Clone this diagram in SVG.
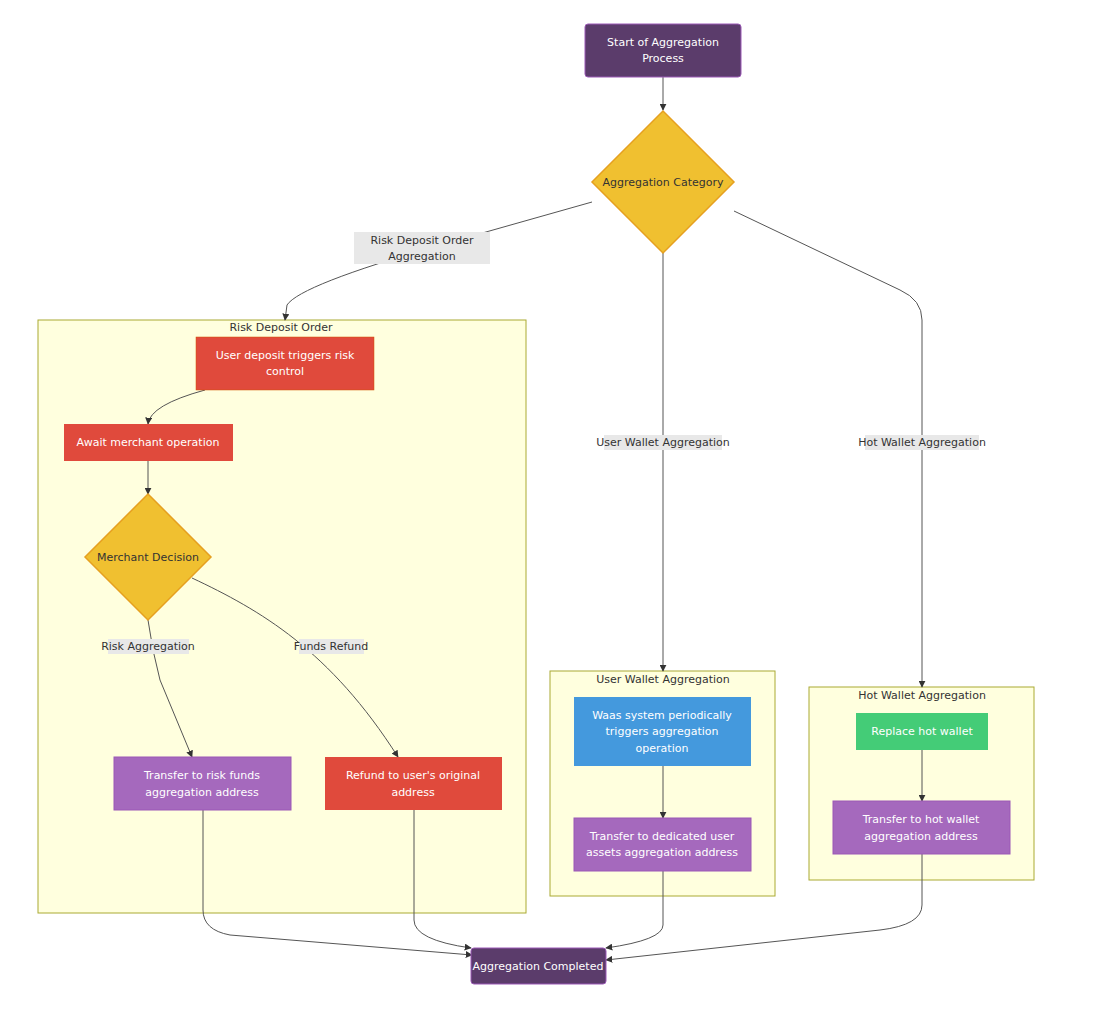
<svg xmlns="http://www.w3.org/2000/svg" width="1097" height="1011" viewBox="0 0 1097 1011">
<style>
text{font-family:"Trebuchet MS","DejaVu Sans",sans-serif;font-size:11px;text-anchor:middle}
.w{fill:#fff}.d{fill:#333}
.cl{fill:#ffffde;stroke:#aaaa33;stroke-width:1}
.e{fill:none;stroke:#555;stroke-width:1}
.lb{fill:#e8e8e8}
</style>
<defs><marker id="a" viewBox="0 0 10 10" refX="9" refY="5" markerWidth="7" markerHeight="7" orient="auto"><path d="M0,0L10,5L0,10z" fill="#333"/></marker></defs>
<rect width="1097" height="1011" fill="#fff"/>
<g id="clusters">
<rect class="cl" x="38" y="320" width="488" height="593"/><text class="d" x="281" y="331">Risk Deposit Order</text>
<rect class="cl" x="550" y="671" width="225" height="225"/><text class="d" x="663" y="683">User Wallet Aggregation</text>
<rect class="cl" x="809" y="687" width="225" height="193"/><text class="d" x="922" y="699">Hot Wallet Aggregation</text>
</g>
<g id="connectors">
<path class="e" marker-end="url(#a)" d="M663,77L663,110"/>
<path class="e" marker-end="url(#a)" d="M592,202L440,245Q300,285 287,305L285,320"/>
<path class="e" marker-end="url(#a)" d="M663,253L663,671"/>
<path class="e" marker-end="url(#a)" d="M734,211L900,290Q922,300 922,320L922,687"/>
<path class="e" marker-end="url(#a)" d="M205,390Q150,405 148,424"/>
<path class="e" marker-end="url(#a)" d="M148,461L148,494"/>
<path class="e" marker-end="url(#a)" d="M148,620Q152,650 160,680L192,757"/>
<path class="e" marker-end="url(#a)" d="M192,578C260,610 330,650 398,757"/>
<path class="e" marker-end="url(#a)" d="M663,766L663,818"/>
<path class="e" marker-end="url(#a)" d="M922,750L922,801"/>
<path class="e" marker-end="url(#a)" d="M203,810L203,910Q203,930 230,935L472,955"/>
<path class="e" marker-end="url(#a)" d="M414,810L414,920Q414,940 471,948"/>
<path class="e" marker-end="url(#a)" d="M663,871L663,925Q663,940 606,948"/>
<path class="e" marker-end="url(#a)" d="M922,854L922,905Q922,925 880,930L606,960"/>
<rect class="lb" x="354" y="232" width="136" height="32"/><text class="d" x="422" y="244">Risk Deposit Order</text><text class="d" x="422" y="260">Aggregation</text>
<rect class="lb" x="604" y="435" width="118" height="15"/><text class="d" x="663" y="446">User Wallet Aggregation</text>
<rect class="lb" x="865" y="435" width="114" height="15"/><text class="d" x="922" y="446">Hot Wallet Aggregation</text>
<rect class="lb" x="108" y="639" width="81" height="15"/><text class="d" x="148" y="650">Risk Aggregation</text>
<rect class="lb" x="299" y="639" width="65" height="15"/><text class="d" x="331" y="650">Funds Refund</text>
</g>
<g id="start"><rect x="585" y="24" width="156" height="53" rx="3" fill="#5b3c6b" stroke="#9b59b6"/><text class="w" x="663" y="46">Start of Aggregation</text><text class="w" x="663" y="62">Process</text></g>
<g id="category"><path d="M663,111L734,182L663,253L592,182z" fill="#f0c030" stroke="#e6a020" stroke-width="1.5"/><text class="d" x="663" y="186">Aggregation Category</text></g>
<g id="userdeposit"><rect x="196" y="337" width="178" height="53" fill="#e04a3c" stroke="#d35400" stroke-width="0.5"/><text class="w" x="285" y="359">User deposit triggers risk</text><text class="w" x="285" y="375">control</text></g>
<g id="await"><rect x="64" y="424" width="169" height="37" fill="#e04a3c"/><text class="w" x="148" y="446">Await merchant operation</text></g>
<g id="merchant"><path d="M148,494L211,557L148,620L85,557z" fill="#f0c030" stroke="#e6a020" stroke-width="1.5"/><text class="d" x="148" y="561">Merchant Decision</text></g>
<g id="riskfunds"><rect x="114" y="757" width="177" height="53" fill="#a569bd" stroke="#9b59b6"/><text class="w" x="202" y="779">Transfer to risk funds</text><text class="w" x="202" y="796">aggregation address</text></g>
<g id="refund"><rect x="325" y="757" width="177" height="53" fill="#e04a3c"/><text class="w" x="413" y="779">Refund to user's original</text><text class="w" x="413" y="796">address</text></g>
<g id="waas"><rect x="574" y="697" width="177" height="69" fill="#4499dd"/><text class="w" x="662" y="719">Waas system periodically</text><text class="w" x="662" y="735">triggers aggregation</text><text class="w" x="662" y="752">operation</text></g>
<g id="dedicated"><rect x="574" y="818" width="177" height="53" fill="#a569bd" stroke="#9b59b6"/><text class="w" x="662" y="840">Transfer to dedicated user</text><text class="w" x="662" y="856">assets aggregation address</text></g>
<g id="replace"><rect x="856" y="713" width="132" height="37" fill="#44cc77"/><text class="w" x="922" y="735">Replace hot wallet</text></g>
<g id="hottransfer"><rect x="833" y="801" width="177" height="53" fill="#a569bd" stroke="#9b59b6"/><text class="w" x="921" y="823">Transfer to hot wallet</text><text class="w" x="921" y="840">aggregation address</text></g>
<g id="completed"><rect x="471" y="948" width="135" height="36" rx="3" fill="#5b3c6b" stroke="#9b59b6"/><text class="w" x="538" y="970">Aggregation Completed</text></g>
</svg>
